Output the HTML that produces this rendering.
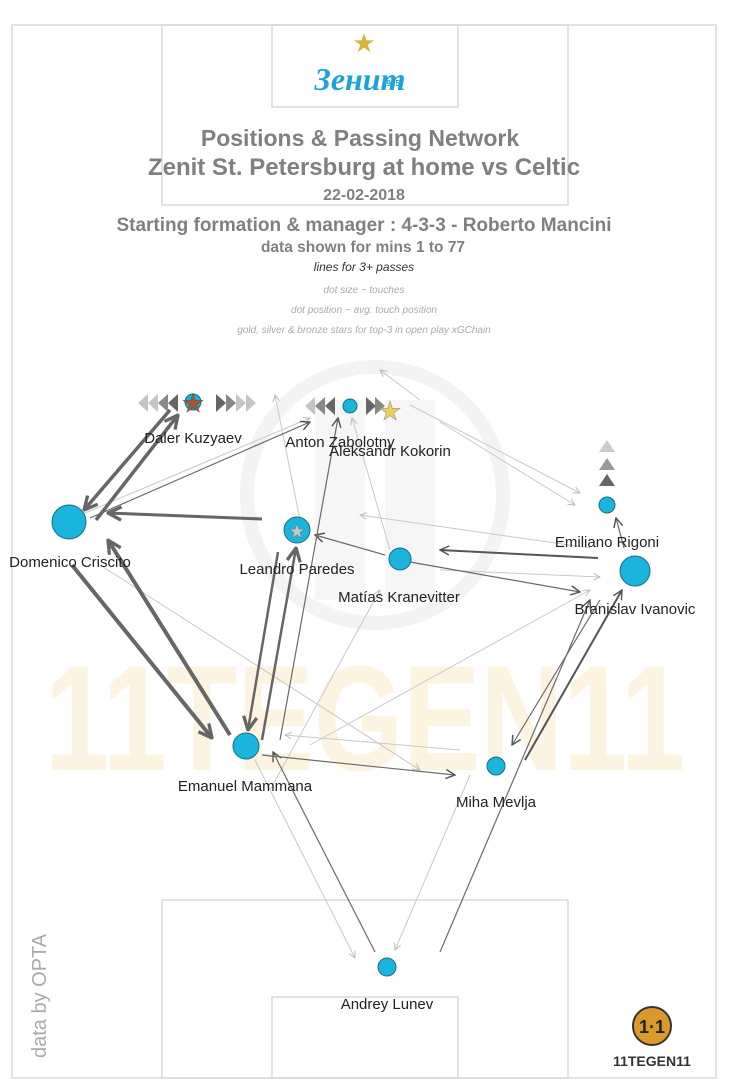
<!DOCTYPE html>
<html><head><meta charset="utf-8"><style>
html,body{margin:0;padding:0;background:#fff;}
svg{display:block;font-family:"Liberation Sans",sans-serif;}
</style></head><body>
<svg width="730" height="1088" viewBox="0 0 730 1088" xmlns="http://www.w3.org/2000/svg">
<defs>
<marker id="t" viewBox="0 0 12 12" refX="11" refY="6" markerWidth="16" markerHeight="16" orient="auto" markerUnits="userSpaceOnUse"><path d="M1,1 L11,6 L1,11" fill="none" stroke="#666" stroke-width="2.5"/></marker>
<marker id="m" viewBox="0 0 12 12" refX="11" refY="6" markerWidth="11" markerHeight="11" orient="auto" markerUnits="userSpaceOnUse"><path d="M1,1 L11,6 L1,11" fill="none" stroke="#555" stroke-width="1.6"/></marker>
<marker id="l" viewBox="0 0 12 12" refX="11" refY="6" markerWidth="8" markerHeight="8" orient="auto" markerUnits="userSpaceOnUse"><path d="M1,1 L11,6 L1,11" fill="none" stroke="#bbb" stroke-width="1.5"/></marker>
</defs>
<rect x="0" y="0" width="730" height="1088" fill="#fff"/>
<!-- watermark -->
<circle cx="375" cy="495" r="128" fill="none" stroke="#f3f3f3" stroke-width="14"/>
<rect x="315" y="400" width="50" height="200" fill="#f6f6f6"/>
<rect x="385" y="400" width="50" height="200" fill="#f6f6f6"/>
<text x="365" y="770" text-anchor="middle" font-size="150" font-weight="bold" fill="#fcf3e0" textLength="640" lengthAdjust="spacingAndGlyphs">11TEGEN11</text>
<!-- pitch -->
<g fill="none" stroke="#d4d4d4" stroke-width="1.3">
<rect x="12" y="25" width="704" height="1053"/>
<rect x="162" y="25" width="406" height="180"/>
<rect x="272" y="25" width="186" height="82"/>
<rect x="162" y="900" width="406" height="178"/>
<rect x="272" y="997" width="186" height="81"/>
</g>
<!-- logo -->
<text x="364" y="52" text-anchor="middle" font-size="26" fill="#d9b43a">★</text>
<text x="360" y="90" text-anchor="middle" font-size="32" font-style="italic" font-weight="bold" fill="#1ea3d8" font-family="Liberation Serif,serif">Зенит</text>
<text x="382" y="86" font-size="8" fill="#1ea3d8" font-weight="bold">1925</text>
<!-- titles -->
<g fill="#808080" text-anchor="middle" font-weight="bold">
<text x="360" y="146" font-size="23">Positions &amp; Passing Network</text>
<text x="364" y="175" font-size="24">Zenit St. Petersburg at home vs Celtic</text>
<text x="364" y="200" font-size="16">22-02-2018</text>
<text x="364" y="231" font-size="19">Starting formation &amp; manager : 4-3-3 - Roberto Mancini</text>
<text x="363" y="252" font-size="15.5">data shown for mins 1 to 77</text>
</g>
<text x="364" y="271" text-anchor="middle" font-size="12" font-style="italic" fill="#333">lines for 3+ passes</text>
<g fill="#aaa" text-anchor="middle" font-size="10" font-style="italic">
<text x="364" y="293">dot size ~ touches</text>
<text x="364" y="313">dot position ~ avg. touch position</text>
<text x="364" y="333">gold, silver &amp; bronze stars for top-3 in open play xGChain</text>
</g>
<!-- light edges -->
<g stroke="#c8c8c8" stroke-width="1" fill="none" marker-end="url(#l)">
<line x1="80" y1="515" x2="310" y2="418"/>
<line x1="300" y1="520" x2="275" y2="395"/>
<line x1="440" y1="422" x2="575" y2="505"/>
<line x1="410" y1="405" x2="580" y2="493"/>
<line x1="590" y1="548" x2="360" y2="515"/>
<line x1="440" y1="570" x2="600" y2="577"/>
<line x1="255" y1="760" x2="355" y2="958"/>
<line x1="470" y1="775" x2="395" y2="950"/>
<line x1="420" y1="400" x2="380" y2="370"/>
<line x1="100" y1="565" x2="420" y2="770"/>
<line x1="270" y1="790" x2="380" y2="590"/>
<line x1="310" y1="745" x2="590" y2="590"/>
<line x1="460" y1="750" x2="285" y2="735"/>
<line x1="390" y1="550" x2="352" y2="418"/>
</g>
<!-- medium edges -->
<g stroke="#6a6a6a" stroke-width="1.2" fill="none" marker-end="url(#m)">
<line x1="90" y1="518" x2="310" y2="422"/>
<line x1="385" y1="555" x2="315" y2="535"/>
<line x1="410" y1="562" x2="580" y2="592"/>
<line x1="375" y1="952" x2="273" y2="752"/>
<line x1="440" y1="952" x2="590" y2="600"/>
<line x1="262" y1="755" x2="455" y2="775"/>
<line x1="600" y1="600" x2="512" y2="745"/>
<line x1="624" y1="548" x2="616" y2="518"/>
<line x1="280" y1="740" x2="338" y2="418"/>
</g>
<g stroke="#555" stroke-width="2" fill="none" marker-end="url(#m)">
<line x1="598" y1="558" x2="440" y2="550"/>
<line x1="525" y1="760" x2="622" y2="590"/>
</g>
<!-- thick edges -->
<g stroke="#666" fill="none" marker-end="url(#t)">
<line x1="262" y1="519" x2="108" y2="513" stroke-width="3"/>
<line x1="96" y1="520" x2="178" y2="415" stroke-width="3.5"/>
<line x1="170" y1="410" x2="84" y2="510" stroke-width="3.5"/>
<line x1="72" y1="565" x2="212" y2="738" stroke-width="4"/>
<line x1="230" y1="735" x2="108" y2="540" stroke-width="4"/>
<line x1="262" y1="740" x2="296" y2="548" stroke-width="2.5"/>
<line x1="278" y1="552" x2="248" y2="730" stroke-width="2.5"/>
</g>
<!-- position chevrons -->
<g fill="#c4c4c4"><path d="M138,403 l10,-9 v18z"/><path d="M148,403 l10,-9 v18z"/><path d="M236,394 l10,9 l-10,9z"/><path d="M246,394 l10,9 l-10,9z"/>
<path d="M305,406 l10,-9 v18z"/></g>
<g fill="#888"><path d="M158,403 l10,-9 v18z"/><path d="M226,394 l10,9 l-10,9z"/><path d="M315,406 l10,-9 v18z"/><path d="M375,397 l10,9 l-10,9z"/></g>
<g fill="#666"><path d="M168,403 l10,-9 v18z"/><path d="M216,394 l10,9 l-10,9z"/><path d="M325,406 l10,-9 v18z"/><path d="M366,397 l10,9 l-10,9z"/></g>
<path d="M607,440 l8,12 h-16z" fill="#ccc"/><path d="M607,458 l8,12 h-16z" fill="#999"/><path d="M607,474 l8,12 h-16z" fill="#666"/>
<!-- nodes -->
<g fill="#1ab5dc" stroke="#1b6b84" stroke-width="1">
<circle cx="193" cy="402" r="8"/>
<circle cx="350" cy="406" r="7"/>
<circle cx="69" cy="522" r="17"/>
<circle cx="297" cy="530" r="13"/>
<circle cx="400" cy="559" r="11"/>
<circle cx="607" cy="505" r="8"/>
<circle cx="635" cy="571" r="15"/>
<circle cx="246" cy="746" r="13"/>
<circle cx="496" cy="766" r="9"/>
<circle cx="387" cy="967" r="9"/>
</g>
<text x="193" y="412" text-anchor="middle" font-size="26" fill="#a0583a" stroke="#555" stroke-width="0.5">★</text>
<text x="390" y="420" text-anchor="middle" font-size="26" fill="#e6d25a" stroke="#888" stroke-width="0.5">★</text>
<text x="297" y="538" text-anchor="middle" font-size="20" fill="#c8c8c8" stroke="#777" stroke-width="0.5">★</text>
<!-- labels -->
<g fill="#222" font-size="15" text-anchor="middle">
<text x="193" y="443">Daler Kuzyaev</text>
<text x="340" y="447">Anton Zabolotny</text>
<text x="390" y="456">Aleksandr Kokorin</text>
<text x="70" y="567">Domenico Criscito</text>
<text x="297" y="574">Leandro Paredes</text>
<text x="399" y="602">Matías Kranevitter</text>
<text x="607" y="547">Emiliano Rigoni</text>
<text x="635" y="614">Branislav Ivanovic</text>
<text x="245" y="791">Emanuel Mammana</text>
<text x="496" y="807">Miha Mevlja</text>
<text x="387" y="1009">Andrey Lunev</text>
</g>
<text transform="translate(46,1058) rotate(-90)" font-size="20" fill="#aaa">data by OPTA</text>
<!-- bottom-right logo -->
<circle cx="652" cy="1026" r="19" fill="#d99a2b" stroke="#333" stroke-width="2"/>
<text x="652" y="1033" text-anchor="middle" font-size="18" font-weight="bold" fill="#222">1·1</text>
<text x="652" y="1066" text-anchor="middle" font-size="14" font-weight="bold" fill="#333">11TEGEN11</text>
</svg>
</body></html>
